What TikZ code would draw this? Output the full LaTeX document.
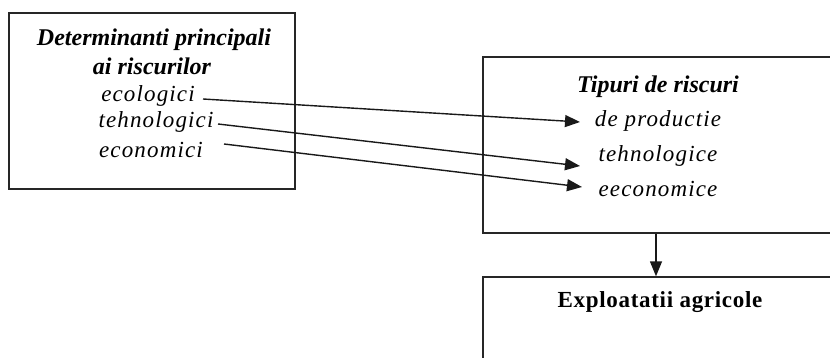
\documentclass[tikz,border=0pt]{standalone}
\usepackage{fontspec}
\setmainfont{Liberation Serif}
\newfontfamily\itemfont[LetterSpace=5]{Liberation Serif}
\newfontfamily\wideboldfont[LetterSpace=3]{Liberation Serif}
\usetikzlibrary{arrows.meta}
\tikzset{
  frame/.style={draw=black!85, line width=1.5pt},
  conn/.style={draw=black!90, line width=1.4pt, -{Triangle[length=15pt,width=12pt]}},
  head/.style={font=\fontsize{24}{28}\selectfont\bfseries\itshape, inner sep=0pt, anchor=center},
  item/.style={font=\fontsize{23}{27}\selectfont\itemfont\itshape, inner sep=0pt, anchor=center},
  boldhead/.style={font=\fontsize{23}{27}\selectfont\wideboldfont\bfseries, inner sep=0pt, anchor=center}
}
\begin{document}
\begin{tikzpicture}[x=1pt,y=-1pt]
\useasboundingbox (0,0) rectangle (830,358);
% boxes
\draw[frame] (9,13) rectangle (295,189);
\draw[frame] (840,57) -- (483,57) -- (483,233) -- (840,233);
\draw[frame] (840,277) -- (483,277) -- (483,370);
\node[inner sep=0pt] (tb) at (656,233) {};
\node[inner sep=0pt] (ta) at (656,277) {};
% left texts
\node[head] (h1) at (154,40) {Determinanti principali};
\node[head] (h2) at (152,66) {ai riscurilor};
\node[item] (l1) at (148,96) {ecologici};
\node[item] (l2) at (156,122) {tehnologici};
\node[item] (l3) at (151,150) {economici};
% right texts
\node[head] (r0) at (658,87) {Tipuri de riscuri};
\node[item] (r1) at (658,121) {de productie};
\node[item] (r2) at (658,156) {tehnologice};
\node[item] (r3) at (658,189) {eeconomice};
\node[boldhead] (e0) at (660,302) {Exploatatii agricole};
% connectors
\coordinate (s1) at (203,99);
\coordinate (s2) at (218,124);
\coordinate (s3) at (224,144);
\coordinate (t1) at (580,122);
\coordinate (t2) at (580,166);
\coordinate (t3) at (582,187);
\draw[conn] (s1) -- (t1);
\draw[conn] (s2) -- (t2);
\draw[conn] (s3) -- (t3);
\draw[conn] (tb) -- (ta);
\end{tikzpicture}
\end{document}
